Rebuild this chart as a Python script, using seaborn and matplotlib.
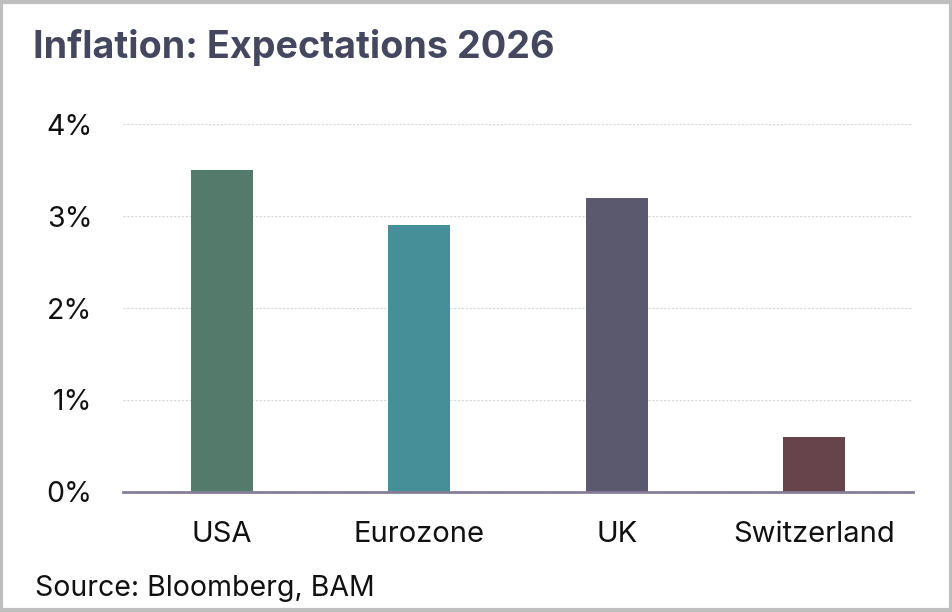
import matplotlib
matplotlib.use("Agg")
import matplotlib.pyplot as plt
import seaborn as sns
import pandas as pd
from matplotlib.patches import Rectangle
from matplotlib.ticker import FuncFormatter

categories = ["USA", "Eurozone", "UK", "Switzerland"]
values = [3.5, 2.9, 3.2, 0.6]
colors = ["#537a6a", "#468f99", "#5b596e", "#67434b"]
yticks = [0, 1, 2, 3, 4]

sns.set_theme(style="white")
plt.rcParams["font.family"] = ["Inter", "DejaVu Sans"]

df = pd.DataFrame({"country": categories, "value": values})

fig = plt.figure(figsize=(9.52, 6.12), dpi=100)
ax = fig.add_axes([123/952, 1-492/612, 790/952, (492-124)/612])

sns.barplot(data=df, x="country", y="value", hue="country", palette=colors,
            width=0.315, saturation=1, legend=False, ax=ax,
            linewidth=0, edgecolor="none")

ax.set_ylim(0, 4)
ax.set_yticks(yticks)
ax.yaxis.set_major_formatter(FuncFormatter(lambda v, p: f"{v:.0f}%"))
ax.set_xlabel("")
ax.set_ylabel("")
ax.grid(axis="y", color="#d6d6e0", linestyle=(0, (2, 1.5)), linewidth=0.8)
ax.set_axisbelow(True)
for s in ["left", "right", "top"]:
    ax.spines[s].set_visible(False)
ax.spines["bottom"].set_color("#857e96")
ax.spines["bottom"].set_linewidth(2)
ax.spines["bottom"].set_zorder(5)
ax.tick_params(axis="y", labelsize=20.5, length=0, pad=22, labelcolor="#111111")
ax.tick_params(axis="x", labelsize=21, length=0, pad=21, labelcolor="#111111")

fig.text(33/952, 1-48/612, "Inflation: Expectations 2026", fontsize=27.2,
         fontweight="bold", color="#44475e", va="center", ha="left")
fig.text(35/952, 1-588/612, "Source: Bloomberg, BAM", fontsize=20.5,
         color="#111111", va="center", ha="left")

fig.patches.append(Rectangle((0.0015, 0.0025), 0.997, 0.995, transform=fig.transFigure,
                             fill=False, edgecolor="#bfbfbf", linewidth=3))

fig.savefig("out.png", dpi=100, facecolor="white")
